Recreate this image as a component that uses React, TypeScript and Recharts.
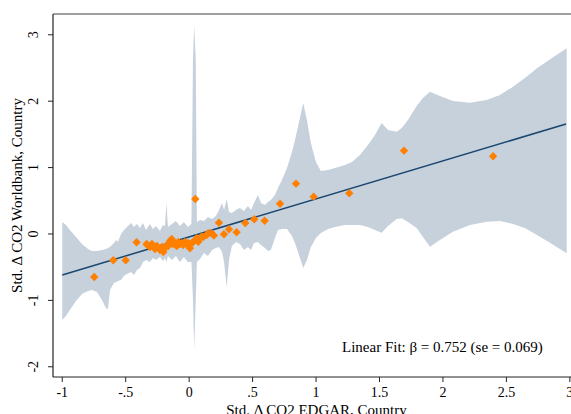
import { ComposedChart, Area, Line, Scatter, XAxis, YAxis, ReferenceLine } from "recharts"

// confidence band
const BAND_X = [
  -1.0, -0.971, -0.94, -0.892, -0.845, -0.797, -0.766, -0.727, -0.687, -0.656, -0.64, -0.624, -0.593,
  -0.576, -0.561, -0.537, -0.514, -0.49, -0.458, -0.435, -0.411, -0.388, -0.364, -0.34, -0.309, -0.286,
  -0.262, -0.23, -0.207, -0.191, -0.179, -0.167, -0.136, -0.104, -0.073, -0.041, -0.01, 0.018, 0.03,
  0.04, 0.052, 0.061, 0.085, 0.117, 0.148, 0.18, 0.211, 0.235, 0.259, 0.275, 0.296, 0.314, 0.337, 0.369,
  0.4, 0.432, 0.463, 0.487, 0.511, 0.542, 0.566, 0.597, 0.621, 0.644, 0.676, 0.7, 0.731, 0.771, 0.81,
  0.834, 0.873, 0.899, 0.928, 0.959, 0.999, 1.038, 1.094, 1.149, 1.228, 1.283, 1.346, 1.409, 1.464,
  1.517, 1.567, 1.635, 1.675, 1.724, 1.793, 1.842, 1.898, 1.976, 2.079, 2.213, 2.344, 2.449, 2.552,
  2.646, 2.741, 2.859, 2.975,
]
const BAND_HI = [
  0.181, 0.136, 0.06, -0.045, -0.151, -0.226, -0.256, -0.256, -0.241, -0.226, -0.211, -0.196, -0.136,
  -0.09, -0.12, 0.0, 0.06, 0.105, 0.166, 0.105, 0.151, 0.09, 0.166, 0.06, 0.151, 0.075,
  0.12, 0.045, 0.136, 0.12, 0.467, 0.105, 0.151, 0.196, 0.12, 0.181, 0.105, 0.151, 2.62,
  3.148, 2.62, 0.181, 0.211, 0.196, 0.256, 0.226, 0.271, 0.361, 0.467, 0.361, 0.527, 0.331, 0.316, 0.361,
  0.392, 0.346, 0.422, 0.361, 0.467, 0.587, 0.467, 0.437, 0.482, 0.512, 0.587, 0.693, 0.813, 0.994, 1.235,
  1.416, 1.747, 1.973, 1.717, 1.37, 1.084, 0.949, 0.964, 0.994, 1.039, 1.084, 1.19, 1.34, 1.491,
  1.672, 1.566, 1.541, 1.596, 1.717, 1.928, 2.048, 2.143, 2.078, 2.003, 1.977, 2.018, 2.093, 2.218,
  2.349, 2.495, 2.651, 2.797,
]
const BAND_LO = [
  -1.295, -1.235, -1.145, -1.009, -0.904, -0.858, -0.843, -0.873, -0.994, -1.114, -1.13, -0.843, -0.738,
  -0.723, -0.708, -0.693, -0.633, -0.602, -0.572, -0.617, -0.542, -0.512, -0.422, -0.392, -0.422, -0.361,
  -0.392, -0.346, -0.407, -0.361, -0.422, -0.331, -0.392, -0.331, -0.422, -0.346, -0.422, -0.422, -0.994,
  -1.747, -0.994, -0.422, -0.377, -0.286, -0.331, -0.241, -0.211, -0.196, -0.271, -0.422, -0.798, -0.392, -0.181, -0.12,
  -0.151, -0.241, -0.196, -0.241, -0.136, -0.12, -0.166, -0.211, -0.256, -0.241, -0.06, 0.06, 0.075, 0.075, -0.03,
  -0.136, -0.361, -0.512, -0.392, -0.196, -0.06, 0.015, 0.075, 0.105, 0.136, 0.136, 0.136, 0.105, 0.06,
  0.02, 0.12, 0.226, 0.236, 0.181, 0.09, -0.045, -0.191, -0.09, 0.035, 0.136, 0.185, 0.196, 0.151,
  0.09, -0.015, -0.151, -0.291,
]

// country observations
const PTS_X = [
  -0.748, -0.598, -0.5, -0.414, -0.335, -0.33, -0.309, -0.293, -0.269, -0.254, -0.23, -0.214, -0.204,
  -0.191, -0.175, -0.165, -0.151, -0.138, -0.128, -0.112, -0.098, -0.086, -0.073, -0.059, -0.046, -0.033,
  -0.02, -0.007, 0.006, 0.02, 0.032, 0.048, 0.059, 0.072, 0.098, 0.111, 0.138, 0.15, 0.177, 0.195, 0.235,
  0.274, 0.314, 0.374, 0.442, 0.513, 0.595, 0.716, 0.842, 0.981, 1.262, 1.693, 2.395,
]
const PTS_Y = [
  -0.648, -0.396, -0.396, -0.125, -0.151, -0.166, -0.196, -0.151, -0.226, -0.181, -0.241, -0.196, -0.271,
  -0.211, -0.166, -0.181, -0.105, -0.075, -0.151, -0.136, -0.181, -0.12, -0.151, -0.14, -0.166, -0.12,
  -0.151, -0.136, -0.215, -0.14, -0.116, 0.527, -0.065, -0.116, -0.041, -0.045, -0.015, 0.011, 0.011, -0.023, 0.17,
  -0.005, 0.071, 0.026, 0.166, 0.221, 0.2, 0.456, 0.758, 0.562, 0.613, 1.255, 1.17,
]

// linear fit end points
const FIT_X = [-1, 2.97]
const FIT_Y = [-0.617, 1.657]

const X_TICKS = [-1, -0.5, 0, 0.5, 1, 1.5, 2, 2.5, 3]
const Y_TICKS = [-2, -1, 0, 1, 2, 3]

const bandData = BAND_X.map((x, i) => ({ x, band: [BAND_LO[i], BAND_HI[i]] }))
const points = PTS_X.map((x, i) => ({ x, y: PTS_Y[i] }))
const fit = FIT_X.map((x, i) => ({ x, y: FIT_Y[i] }))

const FONT = "'Liberation Serif', 'Times New Roman', serif"
const X_DOMAIN = [-1.073, 3.08]
const Y_DOMAIN = [-2.154, 3.313]

// stata-ish labels: .5 instead of 0.5
const fmt = (v: number) => String(v).replace(/^(-?)0\./, "$1.")

const XTick = ({ x, payload }: any) => (
  <text x={x} y={397} textAnchor="middle" fontSize={14} fontFamily={FONT} fill="#000">
    {fmt(payload.value)}
  </text>
)

const YTick = ({ y, payload }: any) => (
  <text
    x={38}
    y={y}
    transform={`rotate(-90 38 ${y})`}
    textAnchor="middle"
    fontSize={14}
    fontFamily={FONT}
    fill="#000"
  >
    {fmt(payload.value)}
  </text>
)

const Diamond = ({ cx, cy }: any) => {
  const r = 4.2
  return (
    <polygon
      points={`${cx},${cy - r} ${cx + r},${cy} ${cx},${cy + r} ${cx - r},${cy}`}
      fill="#ff7f00"
    />
  )
}

export default function App() {
  return (
    <div
      style={{
        position: "fixed",
        left: 0,
        top: 0,
        width: 571,
        height: 414,
        overflow: "hidden",
        background: "#fff",
      }}
    >
      <div style={{ position: "absolute", left: 0, top: 0 }}>
        <ComposedChart
          width={600}
          height={430}
          data={bandData}
          margin={{ top: 14, right: 20, bottom: 0, left: 0 }}
        >
          <XAxis
            dataKey="x"
            type="number"
            domain={X_DOMAIN}
            allowDataOverflow
            ticks={X_TICKS}
            interval={0}
            height={53}
            tickSize={5}
            tick={<XTick />}
            axisLine={{ stroke: "#222", strokeWidth: 1.2 }}
            tickLine={{ stroke: "#222" }}
          />
          <YAxis
            type="number"
            domain={Y_DOMAIN}
            allowDataOverflow
            ticks={Y_TICKS}
            interval={0}
            width={53}
            tickSize={5}
            tick={<YTick />}
            axisLine={{ stroke: "#222", strokeWidth: 1.2 }}
            tickLine={{ stroke: "#222" }}
          />
          <ReferenceLine y={Y_DOMAIN[1]} stroke="#808080" strokeWidth={1.3} />
          <Area
            dataKey="band"
            type="linear"
            stroke="none"
            fill="#c6d1dc"
            fillOpacity={1}
            isAnimationActive={false}
          />
          <Line
            data={fit}
            dataKey="y"
            type="linear"
            stroke="#1a476f"
            strokeWidth={1.5}
            dot={false}
            isAnimationActive={false}
          />
          <Scatter data={points} dataKey="y" shape={<Diamond />} isAnimationActive={false} />
        </ComposedChart>
      </div>
      <svg
        width={571}
        height={414}
        style={{ position: "absolute", left: 0, top: 0, pointerEvents: "none" }}
      >
        <text
          x={22}
          y={195.5}
          transform="rotate(-90 22 195.5)"
          textAnchor="middle"
          fontSize={15}
          fontFamily={FONT}
          fill="#000"
        >
          Std. Δ CO2 Worldbank, Country
        </text>
        <text x={316.5} y={415} textAnchor="middle" fontSize={15} fontFamily={FONT} fill="#000">
          Std. Δ CO2 EDGAR, Country
        </text>
        <text x={342} y={352} fontSize={15} fontFamily={FONT} fill="#000">
          Linear Fit: β = 0.752 (se = 0.069)
        </text>
      </svg>
    </div>
  )
}
